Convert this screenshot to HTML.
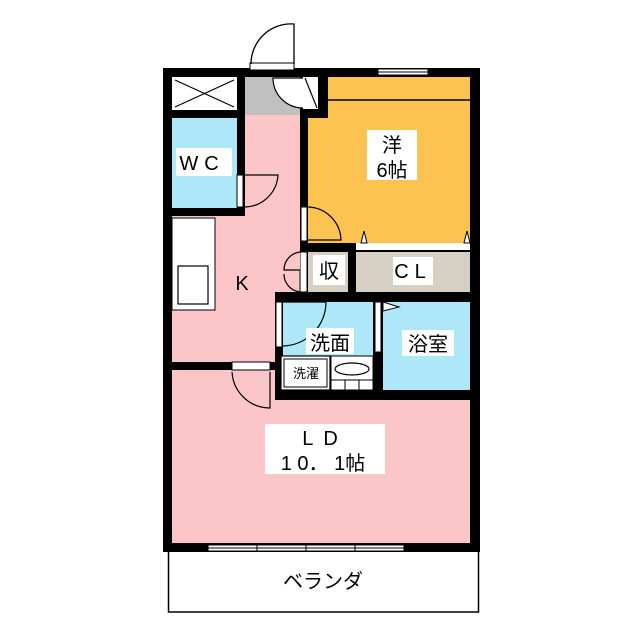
<!DOCTYPE html>
<html><head><meta charset="utf-8"><style>
html,body{margin:0;padding:0;background:#fff}
svg{display:block}
text{font-family:"Liberation Sans","Noto Sans CJK JP",sans-serif;fill:#000}
</style></head><body>
<svg width="640" height="640" viewBox="0 0 640 640" xmlns="http://www.w3.org/2000/svg">
<rect x="168.5" y="550" width="310" height="62" fill="#fff" stroke="#000" stroke-width="1.5"/>
<rect x="163" y="68" width="317" height="484" fill="#000"/>
<rect x="172" y="77" width="65" height="33" fill="#fff"/>
<path d="M175 80 L234 107 M234 80 L175 107" stroke="#000" stroke-width="1.2"/>
<rect x="172" y="118" width="65" height="90" fill="#aee8f8"/>
<rect x="245" y="77" width="55" height="38" fill="#c0c0c0"/>
<rect x="172" y="216" width="128" height="76" fill="#fcc5c8"/>
<rect x="172" y="292" width="103" height="70" fill="#fcc5c8"/>
<rect x="245" y="115" width="55" height="101" fill="#fcc5c8"/>
<rect x="308" y="77" width="162" height="166" fill="#fdc350"/>
<rect x="300" y="77" width="28" height="41" fill="#000"/>
<rect x="308" y="118" width="162" height="125" fill="#fdc350"/>
<line x1="328" y1="100" x2="470" y2="100" stroke="#000" stroke-width="1.5"/>
<rect x="308" y="252" width="40" height="40" fill="#d6d0c4"/>
<rect x="356" y="252" width="114" height="40" fill="#d6d0c4"/>
<rect x="356" y="243" width="114" height="7" fill="#fff"/>
<rect x="283" y="302" width="90" height="88" fill="#aee8f8"/>
<rect x="383" y="302" width="87" height="88" fill="#aee8f8"/>
<rect x="172" y="370" width="103" height="40" fill="#fcc5c8"/>
<rect x="172" y="400" width="298" height="143" fill="#fcc5c8"/>
<rect x="250" y="63" width="44" height="7" fill="#fff" stroke="#000" stroke-width="1"/>
<path d="M294 64 L294 24 A40 40 0 0 0 251 64" fill="none" stroke="#000" stroke-width="1.3"/>
<rect x="303" y="77" width="15" height="32" fill="#fff"/>
<path d="M305 78 L317 108" stroke="#000" stroke-width="1.2"/>
<path d="M303 78 L273 78 A30 30 0 0 0 303 108" fill="#fff" stroke="#000" stroke-width="1.2"/>
<rect x="378" y="69" width="50" height="6" fill="#fff" stroke="#000" stroke-width="1"/>
<line x1="378" y1="72" x2="428" y2="72" stroke="#000" stroke-width="1"/>
<rect x="237" y="175" width="6" height="32" fill="#fff" stroke="#000" stroke-width="1"/>
<path d="M244 175 L278 175 A34 34 0 0 1 244 207" fill="none" stroke="#000" stroke-width="1.2"/>
<rect x="301" y="207" width="6" height="34" fill="#fff" stroke="#000" stroke-width="1"/>
<path d="M308 207 A34 34 0 0 1 341 240 L308 240" fill="none" stroke="#000" stroke-width="1.2"/>
<path d="M361 243 L364 231 L367 243Z M464 243 L467 231 L470 243Z" fill="#fff" stroke="#000" stroke-width="1"/>
<rect x="300" y="252" width="7" height="40" fill="#fff" stroke="#000" stroke-width="1"/>
<path d="M300 252 A18 18 0 0 0 284 270 L300 270 M300 292 A18 18 0 0 1 284 274" fill="#fcc5c8" stroke="#000" stroke-width="1.2"/>
<rect x="172" y="218" width="43" height="92" fill="#fff" stroke="#000" stroke-width="1"/>
<rect x="178" y="266" width="30" height="38" fill="#fff" stroke="#000" stroke-width="1.2"/>
<rect x="276" y="302" width="6" height="45" fill="#fff" stroke="#000" stroke-width="1"/>
<path d="M283 302 L326 302 A44 44 0 0 1 283 346" fill="none" stroke="#000" stroke-width="1.2"/>
<rect x="375" y="302" width="6" height="50" fill="#fff" stroke="#000" stroke-width="1"/>
<path d="M383 302 L399 307 L383 311Z" fill="#fff" stroke="#000" stroke-width="1"/>
<rect x="281" y="356" width="49" height="34" fill="#fff" stroke="#000" stroke-width="1.2"/>
<rect x="284" y="359" width="43" height="28" fill="#fff" stroke="#000" stroke-width="1"/>
<rect x="331" y="356" width="42" height="34" fill="#fff" stroke="#000" stroke-width="1"/>
<ellipse cx="352" cy="369" rx="17" ry="6" fill="#fff" stroke="#000" stroke-width="1.2"/>
<path d="M331 380 L373 380 M345 380 L345 390 M359 380 L359 390" stroke="#000" stroke-width="1"/>
<rect x="232" y="362" width="38" height="8" fill="#fff" stroke="#000" stroke-width="1"/>
<path d="M232 372 A38 38 0 0 0 270 408 L270 372" fill="none" stroke="#000" stroke-width="1.2"/>
<rect x="208" y="545" width="196" height="6" fill="#fff" stroke="#000" stroke-width="1"/>
<path d="M208 548 L404 548 M257 545 L257 551 M306 545 L306 551 M355 545 L355 551" stroke="#000" stroke-width="1"/>
<rect x="367" y="130" width="50" height="50" fill="#fff"/>
<rect x="176" y="148" width="56" height="28" fill="#fff"/>
<text x="202" y="170" font-size="20" text-anchor="middle" letter-spacing="6">WC</text>
<text x="392" y="152" font-size="20" text-anchor="middle">洋</text>
<text x="392" y="177" font-size="20" text-anchor="middle">6帖</text>
<text x="242" y="290" font-size="20" text-anchor="middle">K</text>
<rect x="313" y="255" width="32" height="30" fill="#fff"/>
<text x="329" y="278" font-size="20" text-anchor="middle">収</text>
<rect x="393" y="257" width="40" height="28" fill="#fff"/>
<text x="413" y="278" font-size="20" text-anchor="middle" letter-spacing="6">CL</text>
<rect x="306" y="328" width="48" height="26" fill="#fff"/>
<text x="330" y="350" font-size="20" text-anchor="middle">洗面</text>
<rect x="402" y="330" width="52" height="26" fill="#fff"/>
<text x="428" y="351" font-size="20" text-anchor="middle">浴室</text>
<text x="306" y="378" font-size="13" text-anchor="middle">洗濯</text>
<rect x="265" y="424" width="120" height="50" fill="#fff"/>
<text x="325" y="445" font-size="20" text-anchor="middle" letter-spacing="10">LD</text>
<text x="323" y="470" font-size="20" text-anchor="middle">1 0．  1帖</text>
<text x="323" y="588" font-size="20" text-anchor="middle">ベランダ</text>
</svg>
</body></html>
